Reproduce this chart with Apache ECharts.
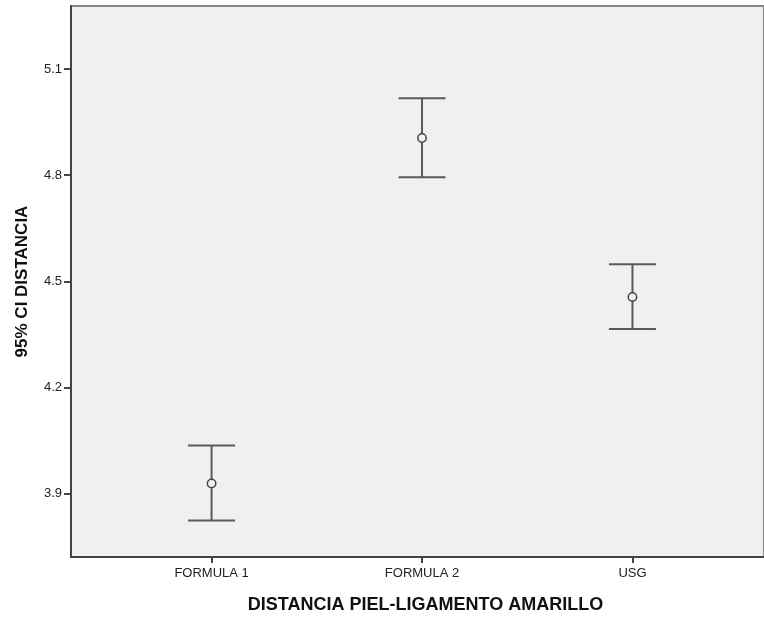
<!DOCTYPE html>
<html>
<head>
<meta charset="utf-8">
<script src="https://cdn.jsdelivr.net/npm/echarts@6/dist/echarts.min.js"></script>
<style>
html, body { margin: 0; padding: 0; background: #fff; }
#chart { width: 764px; height: 619px; }
</style>
</head>
<body>
<div id="chart"></div>
<script>
// categorias y valores (IC 95%)
var categories = ['FORMULA 1', 'FORMULA 2', 'USG'];
var means = [3.929, 4.905, 4.456];
var lower = [3.824, 4.794, 4.365];
var upper = [4.036, 5.017, 4.548];
var yTicks = [3.9, 4.2, 4.5, 4.8, 5.1];

var data = categories.map(function (c, i) {
  return [i + 1, lower[i], upper[i], means[i]];
});

var myChart = echarts.init(document.getElementById('chart'));
var lineColor = '#5a5a5a';

var option = {
  animation: false,
  textStyle: { fontFamily: 'Liberation Sans, Arial, sans-serif' },
  grid: {
    left: 71, right: -3, top: 6, bottom: 62,
    show: true, backgroundColor: '#f0f0f0', borderColor: '#8a8a8a', borderWidth: 2
  },
  xAxis: {
    type: 'value',
    min: 0.332, max: 3.625,
    name: 'DISTANCIA PIEL-LIGAMENTO AMARILLO',
    nameLocation: 'middle',
    nameGap: 39,
    nameTextStyle: { fontSize: 18, fontWeight: 'bold', color: '#111', padding: [0, 0, 0, 16] },
    splitLine: { show: false },
    axisLine: { show: true, onZero: false, lineStyle: { color: '#444', width: 2 } },
    axisTick: { show: true, length: 6, customValues: [1, 2, 3], lineStyle: { color: '#444', width: 2 } },
    axisLabel: {
      customValues: [1, 2, 3], fontSize: 13, color: '#222', margin: 10,
      formatter: function (v) { return categories[Math.round(v) - 1] || ''; }
    }
  },
  yAxis: {
    type: 'value',
    min: 3.721, max: 5.278,
    name: '95% CI DISTANCIA',
    nameLocation: 'middle',
    nameGap: 40,
    nameTextStyle: { fontSize: 17, fontWeight: 'bold', color: '#111' },
    splitLine: { show: false },
    axisLine: { show: true, onZero: false, lineStyle: { color: '#444', width: 2 } },
    axisTick: { show: true, length: 7, customValues: yTicks, lineStyle: { color: '#444', width: 2 } },
    axisLabel: {
      customValues: yTicks, fontSize: 13, color: '#222', margin: 9,
      formatter: function (v) { return v.toFixed(1); }
    }
  },
  series: [{
    type: 'custom',
    data: data,
    encode: { x: 0, y: [1, 2, 3] },
    renderItem: function (params, api) {
      var x = api.value(0);
      var lo = api.coord([x, api.value(1)]);
      var hi = api.coord([x, api.value(2)]);
      var mid = api.coord([x, api.value(3)]);
      var half = 23.5;
      var st = { stroke: lineColor, lineWidth: 2, fill: null };
      return {
        type: 'group',
        children: [
          { type: 'line', shape: { x1: hi[0], y1: hi[1], x2: lo[0], y2: lo[1] }, style: st },
          { type: 'line', shape: { x1: hi[0] - half, y1: hi[1], x2: hi[0] + half, y2: hi[1] }, style: st },
          { type: 'line', shape: { x1: lo[0] - half, y1: lo[1], x2: lo[0] + half, y2: lo[1] }, style: st },
          { type: 'circle', shape: { cx: mid[0], cy: mid[1], r: 4.2 },
            style: { fill: '#f0f0f0', stroke: '#444', lineWidth: 1.5 } }
        ]
      };
    }
  }]
};
myChart.setOption(option);
</script>
</body>
</html>
